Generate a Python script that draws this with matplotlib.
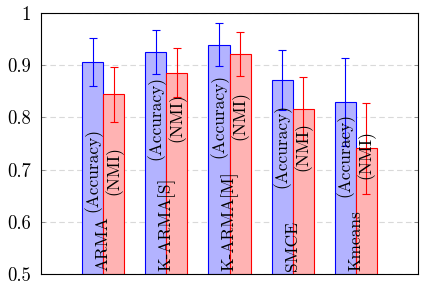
import matplotlib
matplotlib.use("Agg")
import matplotlib.pyplot as plt
import matplotlib.transforms as mtransforms
import numpy as np

plt.rcParams['font.family'] = ['cmr10', 'DejaVu Serif']
plt.rcParams['axes.formatter.use_mathtext'] = True

methods = ["ARMA", "K-ARMA[S]", "K-ARMA[M]", "SMCE", "Kmeans"]
acc = [0.907, 0.925, 0.939, 0.872, 0.829]
acc_err = [0.046, 0.042, 0.041, 0.058, 0.084]
nmi = [0.844, 0.886, 0.921, 0.816, 0.741]
nmi_err = [0.052, 0.046, 0.042, 0.062, 0.087]
label_y = [0.699, 0.799, 0.803, 0.745, 0.728]
yticks = [0.5, 0.6, 0.7, 0.8, 0.9, 1.0]
ytick_labels = ["0.5", "0.6", "0.7", "0.8", "0.9", "1"]

fig = plt.figure(figsize=(4.21, 2.89), dpi=100)
ax = fig.add_axes([41/421, 15/289, (418-41)/421, (274-13)/289])

x = np.arange(1, len(methods) + 1)
w = 1/3

blue_fill = (0.7, 0.7, 1.0)
red_fill = (1.0, 0.7, 0.7)

ax.bar(x - w/2, [a - 0.5 for a in acc], bottom=0.5, width=w, color=blue_fill,
       edgecolor='blue', linewidth=0.8, zorder=2)
ax.bar(x + w/2, [n - 0.5 for n in nmi], bottom=0.5, width=w, color=red_fill,
       edgecolor='red', linewidth=0.8, zorder=2)
ax.errorbar(x - w/2, acc, yerr=acc_err, fmt='none', ecolor='blue',
            elinewidth=0.8, capsize=3, capthick=0.8, zorder=3)
ax.errorbar(x + w/2, nmi, yerr=nmi_err, fmt='none', ecolor='red',
            elinewidth=0.8, capsize=3, capthick=0.8, zorder=3)

fs = 12.5
for i, m in enumerate(methods):
    ax.text(x[i] - w/2, label_y[i], "(Accuracy)", rotation=90, ha='center',
            va='center', fontsize=fs, zorder=4)
    ax.text(x[i] + w/2, label_y[i], "(NMI)", rotation=90, ha='center',
            va='center', fontsize=fs, zorder=4)
    off = mtransforms.offset_copy(ax.transData, fig=fig, x=0, y=3, units='dots')
    ax.text(x[i], 0.5, m, rotation=90, ha='center', va='bottom',
            fontsize=fs, transform=off, zorder=4)

ax.set_xlim(0.016, 5.984)
ax.set_ylim(0.5, 1.0)
ax.set_xticks([])
ax.set_yticks(yticks)
ax.set_yticklabels(ytick_labels, fontsize=13.5)
ax.tick_params(axis='y', direction='in', length=3, width=0.6, color='0.5',
               left=True, right=True, pad=7)
ax.yaxis.grid(True, linestyle=(0, (5, 3)), color='0.85', linewidth=0.8, zorder=0)
ax.set_axisbelow(True)
for s in ax.spines.values():
    s.set_linewidth(0.8)
    s.set_color('black')

fig.savefig("out.png", dpi=100)
